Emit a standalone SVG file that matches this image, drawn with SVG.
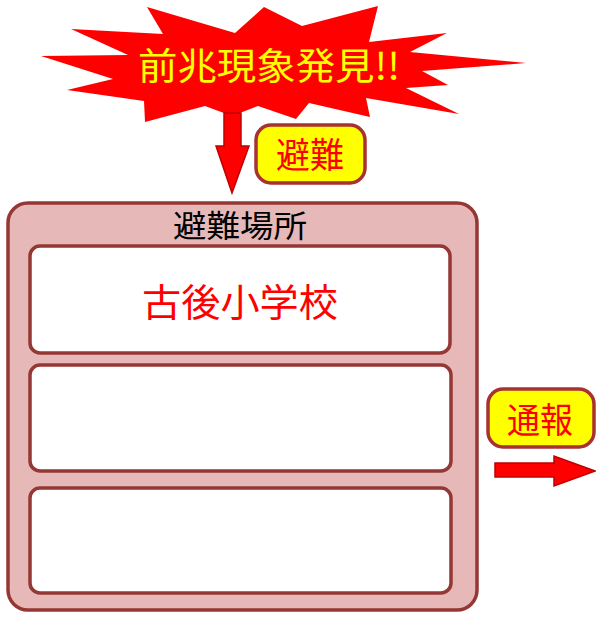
<svg xmlns="http://www.w3.org/2000/svg" width="596" height="621" viewBox="0 0 596 621">
<style>
text{font-family:"Noto Sans CJK JP","Noto Sans CJK SC",sans-serif;text-anchor:middle}
.box{stroke:#953735;stroke-width:3.5}
.inner{fill:#ffffff;stroke:#953735;stroke-width:3.5}
.label{fill:#ffff00;stroke:#a83232;stroke-width:3.5}
.arrow{fill:#ff0000;stroke:#c00000;stroke-width:1.5;stroke-linejoin:miter}
.red{fill:#ff0000}
</style>
<rect width="596" height="621" fill="#ffffff"/>
<g id="burst">
<polygon fill="#ff0000" points="147,7 235,33 264,7 302,26 378,6 369,42 447,33 410,52 526,63 422,71 448,85 406,88 459,114 366,98 370,117 309,103 296,119 258,106 232,116 205,106 145,122 144,101 67,90 113,79 41,56 128,55 71,29 163,34"/>
<text x="269" y="80" font-size="37" fill="#ffff00" textLength="262" lengthAdjust="spacingAndGlyphs">前兆現象発見!!</text>
</g>
<g id="connectors">
<polygon class="arrow" points="224,113 241,113 241,146 249,146 232,193 216,146 224,146"/>
<polygon class="arrow" points="495,463 554,463 554,456 595,471 554,486 554,477 495,477"/>
</g>
<g id="label-hinan">
<rect class="label" x="256" y="125" width="109" height="58" rx="15"/>
<text x="310" y="168" font-size="35" class="red" textLength="68" lengthAdjust="spacingAndGlyphs">避難</text>
</g>
<g id="shelter">
<rect class="box" x="8" y="203" width="469" height="407" rx="20" fill="#e6b8b7"/>
<text x="240" y="237" font-size="31" fill="#000000" textLength="134" lengthAdjust="spacingAndGlyphs">避難場所</text>
</g>
<g id="slot1">
<rect class="inner" x="30" y="246" width="420" height="107" rx="10"/>
<text x="240" y="316" font-size="38" class="red" textLength="196" lengthAdjust="spacingAndGlyphs">古後小学校</text>
</g>
<g id="slot2">
<rect class="inner" x="30" y="365" width="421" height="106" rx="10"/>
</g>
<g id="slot3">
<rect class="inner" x="30" y="488" width="421" height="105" rx="10"/>
</g>
<g id="label-tsuho">
<rect class="label" x="488" y="389" width="106" height="58" rx="15"/>
<text x="540" y="433" font-size="35" class="red" textLength="66" lengthAdjust="spacingAndGlyphs">通報</text>
</g>
</svg>
